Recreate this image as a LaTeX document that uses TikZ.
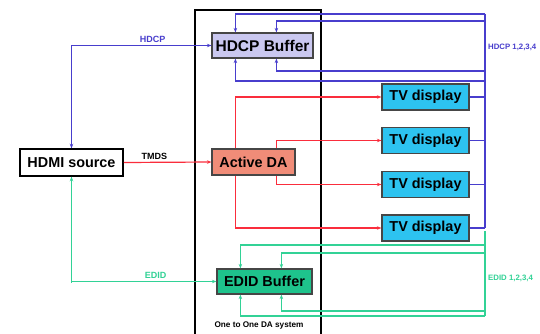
\documentclass[tikz,border=0pt]{standalone}
\usepackage{fontspec}
\setmainfont{Liberation Sans}
\usetikzlibrary{arrows.meta}
\definecolor{hblue}{RGB}{72,62,205}
\definecolor{hred}{RGB}{250,45,60}
\definecolor{hgreen}{RGB}{50,210,150}
\definecolor{lav}{RGB}{202,200,240}
\definecolor{salmon}{RGB}{240,140,120}
\definecolor{cyanb}{RGB}{45,195,240}
\definecolor{edidg}{RGB}{30,195,140}
\definecolor{bord}{RGB}{70,70,70}
\begin{document}
\begin{tikzpicture}[x=1pt,y=-1pt,
  box/.style={draw=bord,line width=1.2pt,inner sep=0pt,font=\fontsize{14.4}{16}\selectfont\bfseries},
  lbl/.style={inner sep=0pt,font=\fontsize{9}{10}\selectfont\bfseries},
  bus/.style={inner sep=0pt,font=\fontsize{7.8}{9}\selectfont\bfseries,anchor=west},
  tip/.style={-{Stealth[length=4.5pt,width=3.5pt]}},
  bl/.style={draw=hblue,line width=1.2pt},
  rd/.style={draw=hred,line width=1.2pt},
  gr/.style={draw=hgreen,line width=1.2pt}]
\useasboundingbox (0,0) rectangle (540,334);
\fill[white] (0,0) rectangle (540,334);
% system frame
\draw[line width=1.8pt,black] (195,340) -- (195,10) -- (321,10) -- (321,340);
\node[font=\fontsize{8.2}{10}\selectfont\bfseries] (sys) at (259,325) {One to One DA system};
% nodes
\node[box,fill=white,draw=black,line width=1.5pt,minimum width=103pt,minimum height=27pt] (src) at (71.5,162.5) {HDMI source};
\node[box,fill=lav,minimum width=101pt,minimum height=25pt] (hdcp) at (262.5,45.5) {\fontsize{15.5}{17}\selectfont HDCP Buffer};
\node[box,fill=salmon,minimum width=83pt,minimum height=26pt] (da) at (253.5,162) {Active DA};
\node[box,fill=edidg,minimum width=95pt,minimum height=25pt] (edid) at (264.5,281.5) {EDID Buffer};
\node[box,fill=cyanb,minimum width=87pt,minimum height=26pt] (tv1) at (425.5,97) {TV display};
\node[box,fill=cyanb,minimum width=87pt,minimum height=26pt] (tv2) at (425.5,140.5) {TV display};
\node[box,fill=cyanb,minimum width=87pt,minimum height=26pt] (tv3) at (425.5,184.5) {TV display};
\node[box,fill=cyanb,minimum width=87pt,minimum height=26pt] (tv4) at (425.5,228) {TV display};
% bus coordinates
\coordinate (b1) at (485,14);
\coordinate (b2) at (485,21);
\coordinate (b3) at (485,71);
\coordinate (b4) at (485,81);
\coordinate (g1) at (485,245);
\coordinate (g2) at (485,253);
\coordinate (g3) at (485,311);
\coordinate (g4) at (485,316);
% source links
\draw[bl,tip] (src.north) |- (hdcp.west) node[lbl,text=hblue,pos=0.79,above=2pt] (lh) {HDCP};
\draw[bl,tip] ([yshift=45pt]src.north) -- (src.north);
\draw[rd,tip] (src.east) -- (da.west) node[lbl,pos=0.35,above=2pt] (lt) {TMDS};
\draw[gr,tip] (src.south) |- (edid.west) node[lbl,text=hgreen,pos=0.79,above=2pt] (le) {EDID};
\draw[gr,tip] ([yshift=-106pt]src.south) -- (src.south);
% HDCP bus
\draw[bl] (b1) -- (tv4.east -| b1);
\draw[bl,tip] (b1) -| ([xshift=24pt]hdcp.north west);
\draw[bl,tip] (b2) -| ([xshift=65pt]hdcp.north west);
\draw[bl,tip] (b3) -| ([xshift=65pt]hdcp.south west);
\draw[bl,tip] (b4) -| ([xshift=24pt]hdcp.south west);
\foreach \t in {tv1,tv2,tv3,tv4} \draw[bl] (\t.east) -- (\t.east -| b1);
\node[bus,text=hblue] (hl) at (488,47) {HDCP 1,2,3,4};
% DA outputs
\draw[rd,tip] ([xshift=24pt]da.north west) |- (tv1.west);
\draw[rd,tip] ([xshift=65pt]da.north west) |- (tv2.west);
\draw[rd,tip] ([xshift=65pt]da.south west) |- (tv3.west);
\draw[rd,tip] ([xshift=24pt]da.south west) |- (tv4.west);
% EDID bus
\draw[gr] (485,231) -- (g4);
\draw[gr,tip] (g1) -| ([xshift=24pt]edid.north west);
\draw[gr,tip] (g2) -| ([xshift=65pt]edid.north west);
\draw[gr,tip] (g3) -| ([xshift=65pt]edid.south west);
\draw[gr,tip] (g4) -| ([xshift=24pt]edid.south west);
\node[bus,text=hgreen] (el) at (488,278) {EDID 1,2,3,4};
\end{tikzpicture}
\end{document}
